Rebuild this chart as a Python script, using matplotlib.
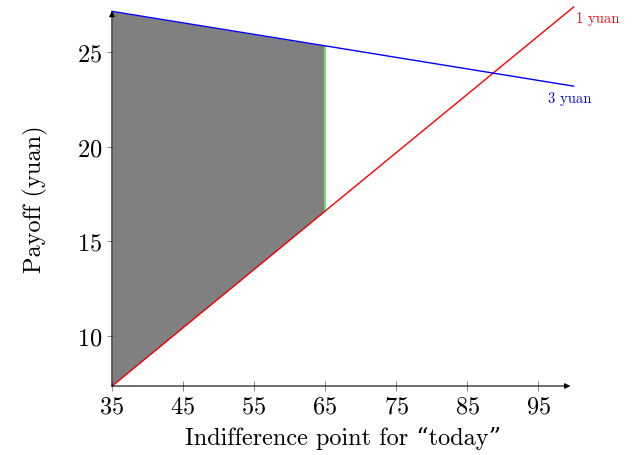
import matplotlib.pyplot as plt

# Chart data
x_pts = [35, 65, 100]
red_pay = [7.36, 16.6, 27.38]   # 1 yuan
blue_pay = [27.15, 25.33, 23.2]  # 3 yuan
x_ticks = [35, 45, 55, 65, 75, 85, 95]
y_ticks = [10, 15, 20, 25]

plt.rcParams['font.family'] = ['cmr10', 'DejaVu Serif']
plt.rcParams['axes.formatter.use_mathtext'] = True

fig = plt.figure(figsize=(6.38, 4.56), dpi=100)
ax = fig.add_axes([0.1755, 0.1513, 0.7235, 0.8224])

# shaded region between the two lines up to 65
ax.fill_between(x_pts[:2], red_pay[:2], blue_pay[:2], color='#808080', lw=0)
ax.plot([x_pts[1], x_pts[1]], [red_pay[1], blue_pay[1]], color='#66ee66', lw=1.2)
ax.plot(x_pts, red_pay, color='red', lw=1, clip_on=False, zorder=3)
ax.plot(x_pts, blue_pay, color='blue', lw=1, clip_on=False, zorder=3)

ax.text(100.35, 26.8, '1 yuan', color='red', fontsize=10.5, ha='left', va='center')
ax.text(96.4, 22.57, '3 yuan', color='blue', fontsize=10.5, ha='left', va='center')

ax.set_xlim(35, 100)
ax.set_ylim(7.36, 27.17)
ax.set_xticks(x_ticks)
ax.set_yticks(y_ticks)
ax.tick_params(direction='inout', length=7, width=0.6, color='#777777', labelsize=17.5)

for s in ax.spines.values():
    s.set_visible(False)
# axis arrows
arrow = dict(arrowstyle='-|>', color='black', lw=0.8, mutation_scale=8, shrinkA=0, shrinkB=0)
ax.annotate('', xy=(0.993, 0), xytext=(0, 0), xycoords='axes fraction', arrowprops=arrow)
ax.annotate('', xy=(0, 1.0), xytext=(0, 0), xycoords='axes fraction', arrowprops=arrow)

ax.set_xlabel('Indifference point for \u201ctoday\u201d', fontsize=17.5, labelpad=6)
ax.set_ylabel('Payoff (yuan)', fontsize=17.5, labelpad=21)

fig.savefig('out.png', dpi=100)
